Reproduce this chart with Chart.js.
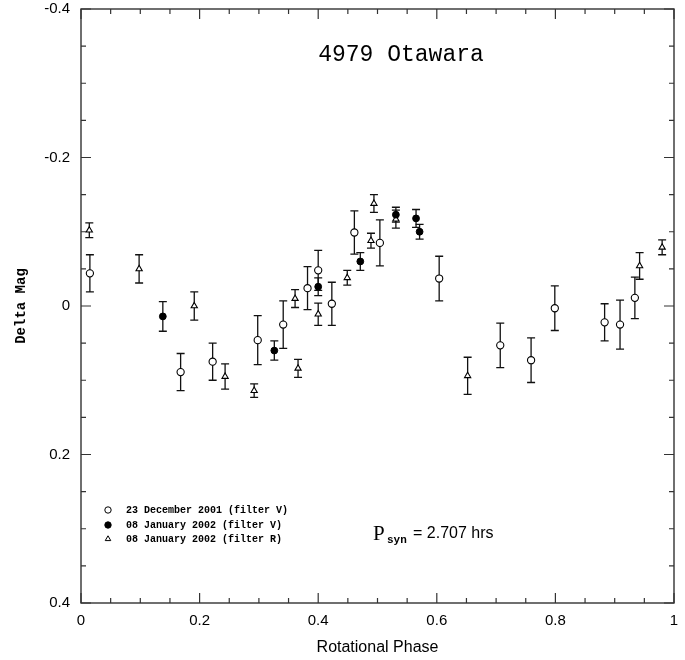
<!DOCTYPE html>
<html>
<head>
<meta charset="utf-8">
<title>4979 Otawara</title>
<script src="https://cdn.jsdelivr.net/npm/chart.js@4"></script>
<style>
  body { margin: 0; background: #fff; }
  #wrap { width: 685px; height: 660px; }
</style>
</head>
<body>
<div id="wrap"><canvas id="lightCurve" width="685" height="660"></canvas></div>
<script>
// Axis tick labels
const xTicks = [0, 0.2, 0.4, 0.6, 0.8, 1];
const yTicks = [-0.4, -0.2, 0, 0.2, 0.4];

// 23 December 2001 (filter V) - open circles
const phaseDecV = [0.015, 0.168, 0.222, 0.298, 0.341, 0.382, 0.400, 0.423, 0.461, 0.504, 0.604, 0.707, 0.759, 0.799, 0.883, 0.909, 0.934];
const magDecV   = [-0.044, 0.089, 0.075, 0.046, 0.025, -0.024, -0.048, -0.003, -0.099, -0.085, -0.037, 0.053, 0.073, 0.003, 0.022, 0.025, -0.011];
const errDecV   = [0.025, 0.025, 0.025, 0.033, 0.032, 0.029, 0.027, 0.029, 0.029, 0.031, 0.030, 0.030, 0.030, 0.030, 0.025, 0.033, 0.028];

// 08 January 2002 (filter V) - filled circles
const phaseJanV = [0.138, 0.326, 0.400, 0.471, 0.531, 0.565, 0.571];
const magJanV   = [0.014, 0.060, -0.026, -0.060, -0.123, -0.118, -0.100];
const errJanV   = [0.020, 0.013, 0.012, 0.012, 0.010, 0.012, 0.010];

// 08 January 2002 (filter R) - open triangles
const phaseJanR = [0.014, 0.098, 0.191, 0.243, 0.292, 0.361, 0.366, 0.400, 0.449, 0.489, 0.494, 0.531, 0.652, 0.942, 0.980];
const magJanR   = [-0.102, -0.050, 0.000, 0.095, 0.114, -0.010, 0.084, 0.011, -0.038, -0.088, -0.138, -0.117, 0.094, -0.054, -0.079];
const errJanR   = [0.010, 0.019, 0.019, 0.017, 0.009, 0.012, 0.012, 0.015, 0.010, 0.010, 0.012, 0.012, 0.025, 0.018, 0.010];

function toPoints(xs, ys, es) {
    return xs.map((x, i) => ({ x: x, y: ys[i], err: es[i] }));
}

function fmt(v) {
    return String(parseFloat(Number(v).toFixed(2)));
}

// scales should not ask for extra room for their end labels
function noPad(s) {
    s.paddingTop = 0; s.paddingBottom = 0;
    s.paddingLeft = 0; s.paddingRight = 0;
}

// Frame with inward ticks, like the original plot
const framePlugin = {
    id: 'frame',
    afterDraw(chart) {
        const { ctx, chartArea: a, scales } = chart;
        const xs = scales.x, ys = scales.y;
        ctx.save();
        ctx.strokeStyle = '#333';
        ctx.lineWidth = 1.4;
        ctx.strokeRect(a.left, a.top, a.right - a.left, a.bottom - a.top);
        ctx.lineWidth = 1.2;
        ctx.beginPath();
        for (let i = 0; i <= 20; i++) {
            const v = i * 0.05;
            const major = xTicks.some(t => Math.abs(t - v) < 1e-6);
            const len = major ? 10 : 5;
            const px = xs.getPixelForValue(v);
            ctx.moveTo(px, a.bottom); ctx.lineTo(px, a.bottom - len);
            ctx.moveTo(px, a.top); ctx.lineTo(px, a.top + len);
        }
        for (let i = 0; i <= 16; i++) {
            const v = -0.4 + i * 0.05;
            const major = yTicks.some(t => Math.abs(t - v) < 1e-6);
            const len = major ? 10 : 5;
            const py = ys.getPixelForValue(v);
            ctx.moveTo(a.left, py); ctx.lineTo(a.left + len, py);
            ctx.moveTo(a.right, py); ctx.lineTo(a.right - len, py);
        }
        ctx.stroke();
        ctx.restore();
    }
};

// Vertical error bars with caps
const errorBarPlugin = {
    id: 'errorBars',
    beforeDatasetsDraw(chart) {
        const { ctx, scales } = chart;
        ctx.save();
        ctx.strokeStyle = '#111';
        ctx.lineWidth = 1.3;
        chart.data.datasets.forEach(ds => {
            ds.data.forEach(p => {
                const px = scales.x.getPixelForValue(p.x);
                const y1 = scales.y.getPixelForValue(p.y - p.err);
                const y2 = scales.y.getPixelForValue(p.y + p.err);
                ctx.beginPath();
                ctx.moveTo(px, y1); ctx.lineTo(px, y2);
                ctx.moveTo(px - 4, y1); ctx.lineTo(px + 4, y1);
                ctx.moveTo(px - 4, y2); ctx.lineTo(px + 4, y2);
                ctx.stroke();
            });
        });
        ctx.restore();
    }
};

// Title, legend block and period note
const notesPlugin = {
    id: 'notes',
    afterDraw(chart) {
        const { ctx } = chart;
        ctx.save();
        ctx.fillStyle = '#000';
        ctx.textBaseline = 'middle';

        ctx.font = '23px "Liberation Mono"';
        ctx.textAlign = 'center';
        ctx.fillText('4979 Otawara', 401, 55);

        ctx.textAlign = 'left';
        ctx.font = 'bold 10px "Liberation Mono"';
        const rows = [510, 525, 539];
        chart.data.datasets.forEach((ds, i) => {
            ctx.fillStyle = ds.backgroundColor;
            ctx.strokeStyle = '#000';
            ctx.lineWidth = 1;
            Chart.helpers.drawPoint(ctx, {
                pointStyle: ds.pointStyle, radius: 3.2, rotation: 0, borderWidth: 1
            }, 108, rows[i]);
            ctx.fillStyle = '#000';
            ctx.fillText(ds.label, 126, rows[i]);
        });

        ctx.textBaseline = 'alphabetic';
        ctx.font = '21px "Liberation Serif"';
        ctx.fillText('P', 373, 540);
        ctx.font = 'bold 11px "Liberation Mono"';
        ctx.fillText('syn', 387, 543);
        ctx.font = '16px "Liberation Sans"';
        ctx.fillText('= 2.707 hrs', 413, 538);
        ctx.restore();
    }
};

new Chart(document.getElementById('lightCurve'), {
    type: 'scatter',
    data: {
        datasets: [
            {
                label: '23 December 2001 (filter V)',
                data: toPoints(phaseDecV, magDecV, errDecV),
                pointStyle: 'circle',
                pointRadius: 3.6,
                backgroundColor: '#fff',
                borderColor: '#000',
                borderWidth: 1.1
            },
            {
                label: '08 January 2002 (filter V)',
                data: toPoints(phaseJanV, magJanV, errJanV),
                pointStyle: 'circle',
                pointRadius: 3.4,
                backgroundColor: '#000',
                borderColor: '#000',
                borderWidth: 1
            },
            {
                label: '08 January 2002 (filter R)',
                data: toPoints(phaseJanR, magJanR, errJanR),
                pointStyle: 'triangle',
                pointRadius: 3.6,
                backgroundColor: '#fff',
                borderColor: '#000',
                borderWidth: 1.1
            }
        ]
    },
    options: {
        responsive: false,
        animation: false,
        devicePixelRatio: 1,
        layout: { padding: { top: 9, right: 11, left: 0, bottom: 0 } },
        plugins: {
            legend: { display: false },
            tooltip: { enabled: false }
        },
        scales: {
            x: {
                type: 'linear',
                position: 'bottom',
                min: 0,
                max: 1,
                grid: { display: false },
                border: { display: false },
                afterBuildTicks: s => { s.ticks = xTicks.map(v => ({ value: v })); },
                afterFit: s => { s.height = 57; noPad(s); },
                ticks: {
                    color: '#000',
                    padding: 1,
                    maxRotation: 0,
                    font: { family: 'Liberation Sans', size: 15 },
                    callback: v => fmt(v)
                },
                title: {
                    display: true,
                    text: 'Rotational Phase',
                    color: '#000',
                    font: { family: 'Liberation Sans', size: 16 },
                    padding: { top: 0, bottom: 3 }
                }
            },
            y: {
                type: 'linear',
                min: -0.4,
                max: 0.4,
                reverse: true,
                grid: { display: false },
                border: { display: false },
                afterBuildTicks: s => { s.ticks = yTicks.map(v => ({ value: v })); },
                afterFit: s => { s.width = 81; noPad(s); },
                ticks: {
                    color: '#000',
                    padding: 3,
                    font: { family: 'Liberation Sans', size: 15 },
                    callback: v => fmt(v)
                },
                title: {
                    display: true,
                    text: 'Delta Mag',
                    color: '#000',
                    font: { family: 'Liberation Mono', size: 14, weight: 'bold' },
                    padding: { top: 13, bottom: 0 }
                }
            }
        }
    },
    plugins: [framePlugin, errorBarPlugin, notesPlugin]
});
</script>
</body>
</html>
